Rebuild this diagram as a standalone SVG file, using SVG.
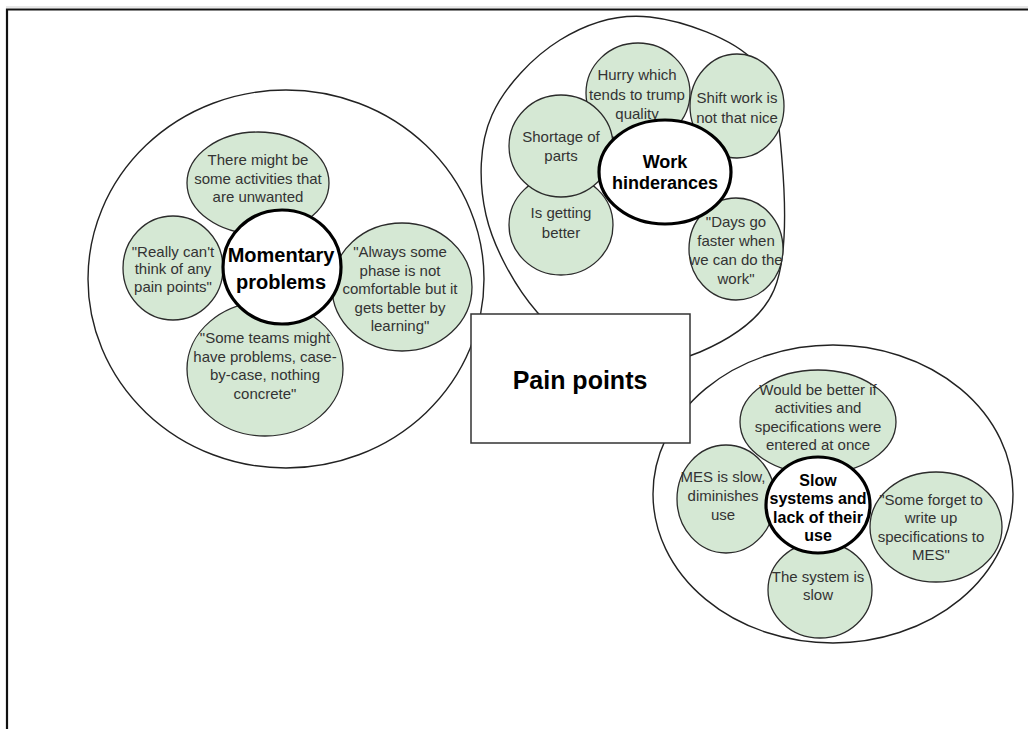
<svg xmlns="http://www.w3.org/2000/svg" width="1028" height="729" viewBox="0 0 1028 729">
  <style>
    .outer { fill: #ffffff; stroke: #222222; stroke-width: 1.4; }
    .leaf { fill: #d5e8d4; stroke: #2b2b2b; stroke-width: 1.3; }
    .hub { fill: #ffffff; stroke: #000000; stroke-width: 3.2; }
    .box { fill: #ffffff; stroke: #333333; stroke-width: 1.5; }
    text { font-family: "Liberation Sans", Arial, sans-serif; text-anchor: middle; }
    .t { font-size: 15px; fill: #333333; }
    .b { font-weight: bold; fill: #000000; }
  </style>

  <rect width="1028" height="729" fill="#ffffff"/>
  <!-- page frame -->
  <path d="M7,740 V9.5 H1040" fill="none" stroke="#111111" stroke-width="2.2"/>
  <line x1="6" y1="7" x2="1028" y2="7" stroke="#d0d0d0" stroke-width="1"/>

  <!-- Momentary problems cluster -->
  <g id="momentary">
    <ellipse class="outer" cx="286" cy="279" rx="198" ry="189"/>
    <g id="m-top">
      <ellipse class="leaf" cx="258" cy="183" rx="71" ry="51"/>
      <text class="t"><tspan x="258" y="165">There might be</tspan><tspan x="258" y="184">some activities that</tspan><tspan x="258" y="202">are unwanted</tspan></text>
    </g>
    <g id="m-left">
      <ellipse class="leaf" cx="173" cy="268" rx="50" ry="52"/>
      <text class="t"><tspan x="173" y="257">"Really can't</tspan><tspan x="173" y="274">think of any</tspan><tspan x="173" y="292">pain points"</tspan></text>
    </g>
    <g id="m-right">
      <ellipse class="leaf" cx="402" cy="287" rx="70" ry="64"/>
      <text class="t"><tspan x="400" y="257">"Always some</tspan><tspan x="400" y="276">phase is not</tspan><tspan x="400" y="294">comfortable but it</tspan><tspan x="400" y="313">gets better by</tspan><tspan x="400" y="331">learning"</tspan></text>
    </g>
    <g id="m-bottom">
      <ellipse class="leaf" cx="265" cy="369" rx="78" ry="67"/>
      <text class="t"><tspan x="265" y="343">"Some teams might</tspan><tspan x="265" y="362">have problems, case-</tspan><tspan x="265" y="380">by-case, nothing</tspan><tspan x="265" y="399">concrete"</tspan></text>
    </g>
    <g id="m-hub">
      <ellipse class="hub" cx="282" cy="267" rx="59" ry="57"/>
      <text class="b" font-size="20"><tspan x="281" y="262">Momentary</tspan><tspan x="281" y="289">problems</tspan></text>
    </g>
  </g>

  <!-- Work hinderances cluster -->
  <g id="work">
    <path class="outer" d="M650,17 C682.5,20.7 733,38.2 755,62 C777,85.8 778.8,122 782,160 C785.2,198 787.7,258 774,290 C760.3,322 727.3,340.3 700,352 C672.7,363.7 637.2,366.7 610,360 C582.8,353.3 558.3,336.2 537,312 C515.7,287.8 493.5,247.8 486,215 C478.5,182 479,144.2 492,115 C505,85.8 533.7,56.3 560,40 C586.3,23.7 617.5,13.3 650,17 Z"/>
    <g id="w-hurry">
      <ellipse class="leaf" cx="638" cy="93" rx="52" ry="50"/>
      <text class="t"><tspan x="637" y="80">Hurry which</tspan><tspan x="637" y="100">tends to trump</tspan><tspan x="637" y="119">quality</tspan></text>
    </g>
    <g id="w-shift">
      <ellipse class="leaf" cx="737" cy="106" rx="47" ry="52"/>
      <text class="t"><tspan x="737" y="103">Shift work is</tspan><tspan x="737" y="123">not that nice</tspan></text>
    </g>
    <g id="w-better">
      <ellipse class="leaf" cx="561" cy="225" rx="52" ry="50"/>
      <text class="t"><tspan x="561" y="218">Is getting</tspan><tspan x="561" y="238">better</tspan></text>
    </g>
    <g id="w-parts">
      <ellipse class="leaf" cx="561" cy="146" rx="52" ry="51"/>
      <text class="t"><tspan x="561" y="142">Shortage of</tspan><tspan x="561" y="161">parts</tspan></text>
    </g>
    <g id="w-days">
      <ellipse class="leaf" cx="736" cy="249" rx="47" ry="51"/>
      <text class="t"><tspan x="736" y="227">"Days go</tspan><tspan x="736" y="246">faster when</tspan><tspan x="736" y="265">we can do the</tspan><tspan x="736" y="284">work"</tspan></text>
    </g>
    <g id="w-hub">
      <ellipse class="hub" cx="665" cy="172" rx="66" ry="52"/>
      <text class="b" font-size="18"><tspan x="665" y="168">Work</tspan><tspan x="665" y="189">hinderances</tspan></text>
    </g>
  </g>

  <!-- Slow systems cluster -->
  <g id="slow">
    <ellipse class="outer" cx="833" cy="494" rx="180" ry="149"/>
    <g id="s-top">
      <ellipse class="leaf" cx="818" cy="422" rx="78" ry="52"/>
      <text class="t"><tspan x="818" y="395">Would be better if</tspan><tspan x="818" y="413">activities and</tspan><tspan x="818" y="432">specifications were</tspan><tspan x="818" y="450">entered at once</tspan></text>
    </g>
    <g id="s-left">
      <ellipse class="leaf" cx="726" cy="499" rx="49" ry="54"/>
      <text class="t"><tspan x="723" y="482">MES is slow,</tspan><tspan x="723" y="501">diminishes</tspan><tspan x="723" y="520">use</tspan></text>
    </g>
    <g id="s-right">
      <ellipse class="leaf" cx="936" cy="527" rx="66" ry="55"/>
      <text class="t"><tspan x="931" y="505">"Some forget to</tspan><tspan x="931" y="523">write up</tspan><tspan x="931" y="542">specifications to</tspan><tspan x="931" y="560">MES"</tspan></text>
    </g>
    <g id="s-bottom">
      <ellipse class="leaf" cx="820" cy="590" rx="52" ry="48"/>
      <text class="t"><tspan x="818" y="582">The system is</tspan><tspan x="818" y="600">slow</tspan></text>
    </g>
    <g id="s-hub">
      <ellipse class="hub" cx="818" cy="505" rx="52" ry="48"/>
      <text class="b" font-size="16"><tspan x="818" y="486">Slow</tspan><tspan x="818" y="504">systems and</tspan><tspan x="818" y="523">lack of their</tspan><tspan x="818" y="541">use</tspan></text>
    </g>
  </g>

  <!-- central title box -->
  <g id="pain-points">
    <rect class="box" x="471" y="314" width="219" height="129"/>
    <text class="b" font-size="25" x="580" y="389">Pain points</text>
  </g>

  <g id="connectors"/>
</svg>
